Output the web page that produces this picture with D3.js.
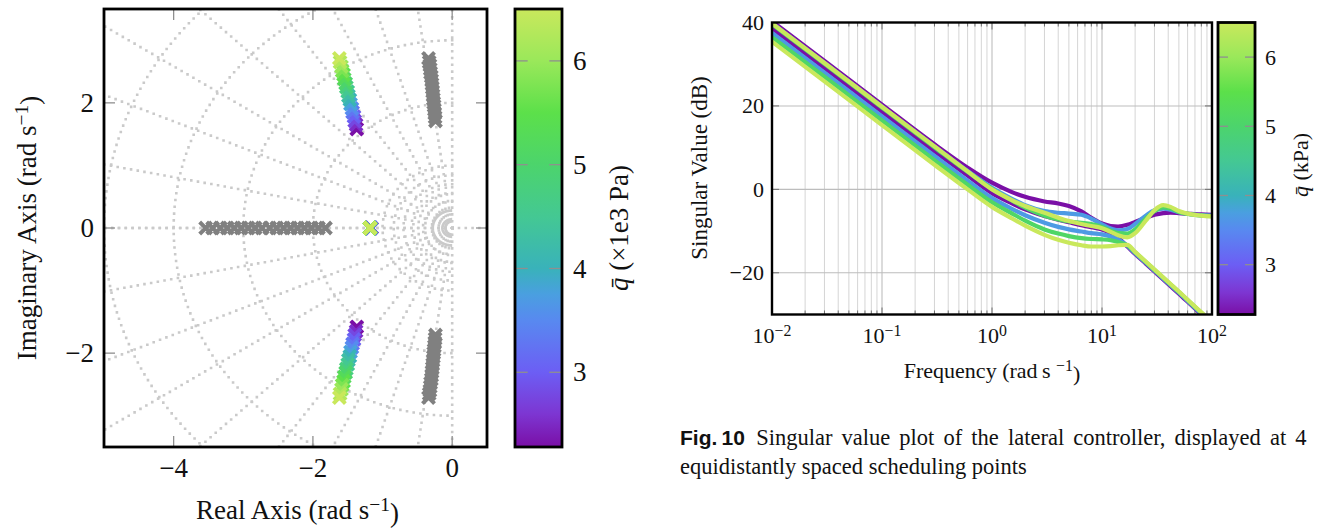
<!DOCTYPE html>
<html>
<head>
<meta charset="utf-8">
<script src="https://cdn.jsdelivr.net/npm/d3@7"></script>
<style>
  body { margin: 0; background: #fff; }
  svg { display: block; }
</style>
</head>
<body>
<svg id="fig" width="1320" height="528"></svg>
<script>
// ---------- data ----------
// scheduling points, dynamic pressure (x1e3 Pa)
const qPoints = [2.28, 2.53, 2.78, 3.02, 3.27, 3.52, 3.77, 4.02, 4.26, 4.51, 4.76, 5.01, 5.26, 5.51, 5.75, 6.0, 6.25, 6.5];

// closed loop poles that move with q (upper half, mirrored below)
const modeRe = [-1.37, -1.38, -1.40, -1.41, -1.43, -1.44, -1.46, -1.47, -1.49, -1.50, -1.52, -1.53, -1.55, -1.56, -1.58, -1.59, -1.61, -1.62];
const modeIm = [1.58, 1.65, 1.71, 1.78, 1.85, 1.91, 1.98, 2.05, 2.11, 2.18, 2.25, 2.31, 2.38, 2.45, 2.51, 2.58, 2.65, 2.71];
const realPole = [-1.16, -1.16, -1.16, -1.17, -1.17, -1.17, -1.17, -1.17, -1.18, -1.18, -1.18, -1.18, -1.18, -1.18, -1.18, -1.18, -1.18, -1.18];

// open loop poles (grey)
const grayReal = [-1.82, -1.92, -2.02, -2.12, -2.22, -2.32, -2.42, -2.52, -2.62, -2.73, -2.83, -2.93, -3.03, -3.13, -3.23, -3.33, -3.44, -3.54];
const grayRe = [-0.24, -0.245, -0.25, -0.255, -0.26, -0.265, -0.27, -0.275, -0.28, -0.285, -0.29, -0.295, -0.30, -0.31, -0.315, -0.32, -0.33, -0.34];
const grayIm = [1.71, 1.77, 1.83, 1.89, 1.95, 2.00, 2.06, 2.12, 2.18, 2.24, 2.30, 2.36, 2.42, 2.48, 2.54, 2.60, 2.65, 2.71];

// s-plane grid
const zetaLines = [0, 0.14, 0.3, 0.44, 0.58, 0.72, 0.84, 0.92, 0.98, 1];
const wnCircles = [0.14, 0.28, 0.42, 0.56, 0.7, 0.84, 1, 2, 3, 4, 5];

// colormap
const colorVals = [2.28, 2.6, 3.0, 3.5, 3.75, 4.0, 4.5, 5.0, 5.5, 6.0, 6.5];
const colorHex = ["#7a0fa6", "#7d36d2", "#6c5ef4", "#5889f0", "#4a9fe0", "#39b2ba", "#44c893", "#4cd46c", "#5ce04a", "#9ae85a", "#c9e85c"];
const cbTicks = [3, 4, 5, 6];

// singular values, 4 scheduling points
const qCurves = [2.28, 3.69, 5.09, 6.5];
const freq = [0.01, 0.03, 0.1, 0.3, 0.6, 1, 1.5, 2, 3, 4, 5, 6.5, 8, 10, 12, 14, 17, 20, 25, 30, 36, 42, 50, 65, 80, 100];
const svPurpleHi = [40.3, 30.8, 20.3, 10.8, 5.2, 1.6, -0.6, -1.8, -2.9, -3.4, -4.0, -5.3, -6.8, -8.2, -8.8, -8.9, -8.5, -7.8, -6.8, -6.1, -5.7, -5.6, -5.7, -5.9, -6.0, -6.1];
const svPurpleLo = [38.6, 29.1, 18.6, 9.1, 3.3, -0.9, -3.3, -4.8, -6.4, -7.3, -7.9, -8.6, -9.1, -9.6, -10.5, -11.6, -13.7, -15.5, -17.8, -19.7, -21.6, -23.2, -25.0, -27.8, -30.0, -32.3];
const svBlueHi = [39.8, 30.3, 19.8, 10.3, 4.4, 0.4, -2.2, -3.8, -5.2, -5.6, -5.8, -6.1, -7.0, -8.4, -9.4, -9.8, -9.5, -8.3, -6.3, -5.0, -4.6, -4.9, -5.5, -6.0, -6.2, -6.3];
const svBlueLo = [37.5, 28.0, 17.5, 8.0, 2.1, -2.1, -4.6, -6.2, -8.0, -9.0, -9.6, -10.1, -10.5, -10.8, -11.3, -12.0, -13.5, -15.3, -17.6, -19.5, -21.4, -23.0, -24.8, -27.6, -29.8, -32.1];
const svGreenHi = [39.6, 30.1, 19.6, 10.1, 4.2, 0.1, -2.6, -4.4, -6.3, -7.2, -7.7, -8.0, -8.3, -9.0, -9.9, -10.5, -10.6, -9.6, -7.0, -5.2, -4.3, -4.6, -5.4, -6.0, -6.3, -6.4];
const svGreenLo = [36.5, 27.0, 16.5, 7.0, 1.1, -3.1, -5.7, -7.5, -9.6, -10.6, -11.2, -11.7, -11.9, -12.0, -12.2, -12.6, -13.4, -15.1, -17.4, -19.3, -21.2, -22.8, -24.6, -27.4, -29.6, -31.9];
const svYellowHi = [39.8, 30.3, 19.8, 10.3, 4.3, 0.0, -2.5, -4.0, -5.6, -6.8, -7.6, -8.3, -8.8, -9.3, -10.2, -11.0, -11.5, -10.5, -7.5, -5.0, -3.8, -4.2, -5.2, -6.0, -6.3, -6.5];
const svYellowLo = [35.4, 25.9, 15.4, 5.9, 0.0, -4.2, -6.9, -8.7, -10.9, -12.1, -12.8, -13.4, -13.7, -13.7, -13.6, -13.4, -13.3, -15.0, -17.3, -19.2, -21.1, -22.7, -24.5, -27.3, -29.5, -31.8];

// ---------- setup ----------
const svg = d3.select("#fig");
const serif = "'Liberation Serif', 'Times New Roman', serif";
const sans = "'Liberation Sans', Arial, sans-serif";
const MINUS = "\u2212";
const fmt = v => (v < 0 ? MINUS + Math.abs(v) : String(v));

const cmap = d3.scaleLinear().domain(colorVals).range(colorHex).clamp(true);
const defs = svg.append("defs");

// text with a "^-1" superscript unit
function unitLabel(sel, before) {
  sel.append("tspan").text(before);
  sel.append("tspan").attr("dy", "-0.42em").style("font-size", "72%").text(MINUS + "1");
  sel.append("tspan").attr("dy", "0.42em").text(")");
}

// ---------- left: pole-zero map ----------
const L = {left: 104, right: 487, top: 9, bottom: 447};
const x = d3.scaleLinear().domain([-5, 0.5]).range([L.left, L.right]);
const y = d3.scaleLinear().domain([-3.5, 3.5]).range([L.bottom, L.top]);

defs.append("clipPath").attr("id", "clipL").append("rect")
  .attr("x", L.left).attr("y", L.top).attr("width", L.right - L.left).attr("height", L.bottom - L.top);

const grid = svg.append("g").attr("clip-path", "url(#clipL)")
  .attr("fill", "none").attr("stroke", "#cacaca");

const dotted = g => g.attr("stroke-width", 2.6).attr("stroke-dasharray", "0 6.8").attr("stroke-linecap", "square");

// damping lines
zetaLines.forEach(z => {
  const th = Math.acos(z);
  [1, -1].forEach(s => {
    grid.append("line")
      .attr("x1", x(0)).attr("y1", y(0))
      .attr("x2", x(-20 * Math.cos(th))).attr("y2", y(s * 20 * Math.sin(th)))
      .call(dotted);
  });
});
// real axis to the right
grid.append("line").attr("x1", x(0)).attr("y1", y(0)).attr("x2", L.right).attr("y2", y(0)).call(dotted);

// natural frequency circles
const arc = d3.line().x(d => x(d[0])).y(d => y(d[1]));
wnCircles.forEach(w => {
  const pts = d3.range(90, 270.01, 1).map(a => [w * Math.cos(a * Math.PI / 180), w * Math.sin(a * Math.PI / 180)]);
  const p = grid.append("path").attr("d", arc(pts));
  if (w < 0.3) p.attr("stroke-width", 2.8);
  else p.call(dotted);
});

// ticks (grey, inside, mirrored)
const tickG = svg.append("g").attr("stroke", "#8f8f8f").attr("stroke-width", 1.3);
[-4, -2, 0].forEach(v => {
  tickG.append("line").attr("x1", x(v)).attr("x2", x(v)).attr("y1", L.bottom).attr("y2", L.bottom - 11);
  tickG.append("line").attr("x1", x(v)).attr("x2", x(v)).attr("y1", L.top).attr("y2", L.top + 11);
});
[-2, 0, 2].forEach(v => {
  tickG.append("line").attr("y1", y(v)).attr("y2", y(v)).attr("x1", L.left).attr("x2", L.left + 11);
  tickG.append("line").attr("y1", y(v)).attr("y2", y(v)).attr("x1", L.right).attr("x2", L.right - 11);
});

// pole markers
const markG = svg.append("g").attr("clip-path", "url(#clipL)");
function cross(re, im, color) {
  markG.append("path")
    .attr("transform", `translate(${x(re)},${y(im)})`)
    .attr("d", "M-4.6,-4.6L4.6,4.6M-4.6,4.6L4.6,-4.6")
    .attr("stroke", color).attr("stroke-width", 4).attr("stroke-linecap", "square").attr("fill", "none");
}
grayReal.forEach(r => cross(r, 0, "#808080"));
grayRe.forEach((r, i) => { cross(r, grayIm[i], "#808080"); cross(r, -grayIm[i], "#808080"); });
qPoints.forEach((q, i) => {
  cross(modeRe[i], modeIm[i], cmap(q));
  cross(modeRe[i], -modeIm[i], cmap(q));
});
qPoints.forEach((q, i) => cross(realPole[i], 0, cmap(q)));

// frame
svg.append("rect").attr("x", L.left).attr("y", L.top).attr("width", L.right - L.left).attr("height", L.bottom - L.top)
  .attr("fill", "none").attr("stroke", "#000").attr("stroke-width", 2.8);

// tick labels
const lblL = svg.append("g").style("font-family", serif).style("font-size", "27px").attr("fill", "#111");
[-4, -2, 0].forEach(v => lblL.append("text").attr("x", x(v)).attr("y", 477).attr("text-anchor", "middle").text(fmt(v)));
[-2, 0, 2].forEach(v => lblL.append("text").attr("x", 94).attr("y", y(v)).attr("dy", "0.34em").attr("text-anchor", "end").text(fmt(v)));

lblL.append("text").attr("x", (L.left + L.right) / 2 + 2).attr("y", 519).attr("text-anchor", "middle")
  .call(t => unitLabel(t, "Real Axis (rad s"));
lblL.append("text").attr("transform", `translate(36,${(L.top + L.bottom) / 2}) rotate(-90)`).attr("text-anchor", "middle")
  .call(t => unitLabel(t, "Imaginary Axis (rad s"));

// ---------- colorbars ----------
const qMin = colorVals[0], qMax = colorVals[colorVals.length - 1];
const grad = defs.append("linearGradient").attr("id", "cgrad")
  .attr("x1", 0).attr("y1", 1).attr("x2", 0).attr("y2", 0);
colorVals.forEach((v, i) => grad.append("stop").attr("offset", (v - qMin) / (qMax - qMin)).attr("stop-color", colorHex[i]));

function colorbar(box, fontSize, labelX, titleX, titleCenterY, unit) {
  const cy = d3.scaleLinear().domain([qMin, qMax]).range([box.bottom, box.top]);
  svg.append("rect").attr("x", box.left).attr("y", box.top).attr("width", box.right - box.left).attr("height", box.bottom - box.top)
    .attr("fill", "url(#cgrad)");
  const tk = svg.append("g").attr("stroke", "#8f8f8f").attr("stroke-width", 1.3);
  const len = (box.right - box.left) * 0.27;
  cbTicks.forEach(v => {
    tk.append("line").attr("x1", box.left).attr("x2", box.left + len).attr("y1", cy(v)).attr("y2", cy(v));
    tk.append("line").attr("x1", box.right).attr("x2", box.right - len).attr("y1", cy(v)).attr("y2", cy(v));
  });
  svg.append("rect").attr("x", box.left).attr("y", box.top).attr("width", box.right - box.left).attr("height", box.bottom - box.top)
    .attr("fill", "none").attr("stroke", "#000").attr("stroke-width", 2.8);
  const g = svg.append("g").style("font-family", serif).style("font-size", fontSize + "px").attr("fill", "#111");
  cbTicks.forEach(v => g.append("text").attr("x", labelX).attr("y", cy(v)).attr("dy", "0.34em").text(v));
  const t = g.append("text").attr("transform", `translate(${titleX},${titleCenterY}) rotate(-90)`).attr("text-anchor", "middle");
  t.append("tspan").style("font-style", "italic").text("q\u0304");
  t.append("tspan").text(unit);
}
colorbar({left: 515, right: 562, top: L.top, bottom: L.bottom}, 27, 573, 628, 228, " (\u00d71e3 Pa)");

// ---------- right: singular values ----------
const R = {left: 772, right: 1212, top: 22.5, bottom: 314.5};
const xf = d3.scaleLog().domain([0.01, 100]).range([R.left, R.right]);
const yf = d3.scaleLinear().domain([-30, 40]).range([R.bottom, R.top]);

defs.append("clipPath").attr("id", "clipR").append("rect")
  .attr("x", R.left).attr("y", R.top).attr("width", R.right - R.left).attr("height", R.bottom - R.top);

const isMajor = v => Math.abs(Math.log10(v) - Math.round(Math.log10(v))) < 1e-6;
const gR = svg.append("g");
xf.ticks().forEach(v => {
  gR.append("line").attr("x1", xf(v)).attr("x2", xf(v)).attr("y1", R.top).attr("y2", R.bottom)
    .attr("stroke", isMajor(v) ? "#bdbdbd" : "#d0d0d0").attr("stroke-width", isMajor(v) ? 1.1 : 0.9);
});
[-20, 0, 20].forEach(v => {
  gR.append("line").attr("x1", R.left).attr("x2", R.right).attr("y1", yf(v)).attr("y2", yf(v))
    .attr("stroke", "#bdbdbd").attr("stroke-width", 1.1);
});
const tkR = svg.append("g").attr("stroke", "#707070").attr("stroke-width", 1);
xf.ticks().forEach(v => {
  const l = isMajor(v) ? 7 : 4;
  tkR.append("line").attr("x1", xf(v)).attr("x2", xf(v)).attr("y1", R.bottom).attr("y2", R.bottom - l);
  tkR.append("line").attr("x1", xf(v)).attr("x2", xf(v)).attr("y1", R.top).attr("y2", R.top + l);
});
[-20, 0, 20].forEach(v => {
  tkR.append("line").attr("y1", yf(v)).attr("y2", yf(v)).attr("x1", R.left).attr("x2", R.left + 7);
  tkR.append("line").attr("y1", yf(v)).attr("y2", yf(v)).attr("x1", R.right).attr("x2", R.right - 7);
});

const svLine = d3.line().x((d, i) => xf(freq[i])).y(d => yf(d)).curve(d3.curveMonotoneX);
const curves = [
  [qCurves[0], svPurpleHi], [qCurves[0], svPurpleLo],
  [qCurves[1], svBlueHi], [qCurves[1], svBlueLo],
  [qCurves[2], svGreenHi], [qCurves[2], svGreenLo],
  [qCurves[3], svYellowHi], [qCurves[3], svYellowLo]
];
const cg = svg.append("g").attr("clip-path", "url(#clipR)");
curves.forEach(([q, vals]) => {
  cg.append("path").attr("d", svLine(vals)).attr("fill", "none")
    .attr("stroke", cmap(q)).attr("stroke-width", 4.2).attr("stroke-linejoin", "round");
});

svg.append("rect").attr("x", R.left).attr("y", R.top).attr("width", R.right - R.left).attr("height", R.bottom - R.top)
  .attr("fill", "none").attr("stroke", "#000").attr("stroke-width", 2.4);

const lblR = svg.append("g").style("font-family", serif).style("font-size", "22px").attr("fill", "#111");
[40, 20, 0, -20].forEach(v => lblR.append("text").attr("x", 764).attr("y", yf(v)).attr("dy", "0.34em").attr("text-anchor", "end").text(fmt(v)));
[-2, -1, 0, 1, 2].forEach(e => {
  const t = lblR.append("text").attr("x", xf(Math.pow(10, e))).attr("y", 343).attr("text-anchor", "middle");
  t.append("tspan").text("10");
  t.append("tspan").attr("dy", "-0.45em").style("font-size", "72%").text(fmt(e));
});
lblR.append("text").attr("x", (R.left + R.right) / 2).attr("y", 378).attr("text-anchor", "middle")
  .call(t => unitLabel(t, "Frequency (rad\u2009s "));
lblR.append("text").attr("transform", `translate(707,168) rotate(-90)`).attr("text-anchor", "middle")
  .style("font-size", "23px").text("Singular Value (dB)");

colorbar({left: 1218, right: 1255, top: R.top, bottom: R.bottom}, 22, 1265, 1308, 165, " (kPa)");

// ---------- caption ----------
const capSize = "22.5px";
const cap = svg.append("text").attr("x", 680).attr("y", 445).style("font-size", capSize).attr("fill", "#111");
cap.append("tspan").style("font-family", sans).style("font-weight", "bold").style("font-size", "21px").text("Fig.\u200910");
const capBody = cap.append("tspan").style("font-family", serif)
  .text("\u2002Singular value plot of the lateral controller, displayed at 4");
const gap = 1310 - 680 - cap.node().getComputedTextLength();
capBody.style("word-spacing", (gap / 10) + "px");
svg.append("text").attr("x", 680).attr("y", 474).style("font-size", capSize).style("font-family", serif).attr("fill", "#111")
  .text("equidistantly spaced scheduling points");
</script>
</body>
</html>
